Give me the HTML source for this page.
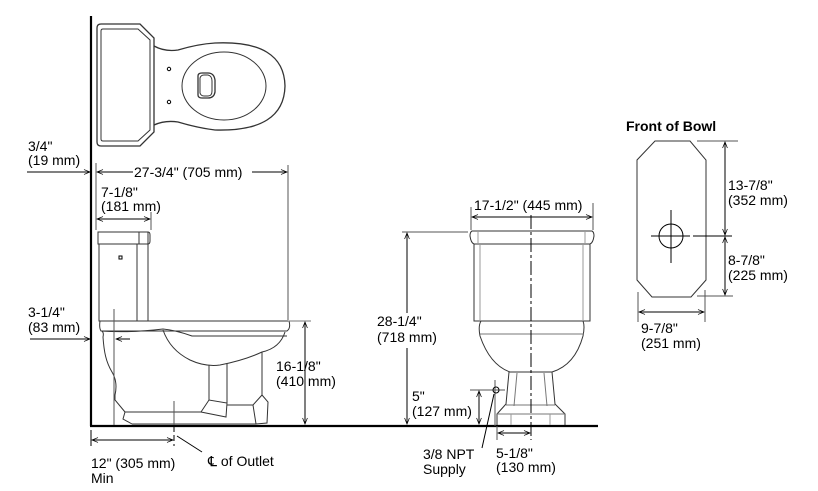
<!DOCTYPE html>
<html><head><meta charset="utf-8"><style>
html,body{margin:0;padding:0;background:#fff;}
svg{display:block;}
text{font-family:"Liberation Sans",sans-serif;font-size:14px;fill:#000;}
</style></head><body>
<svg width="818" height="491" viewBox="0 0 818 491" xmlns="http://www.w3.org/2000/svg">
<defs>
<marker id="a" viewBox="0 0 10 10" refX="10" refY="5" markerWidth="8" markerHeight="6" orient="auto-start-reverse" markerUnits="userSpaceOnUse"><path d="M0,1 L10,5 L0,9" fill="none" stroke="#000" stroke-width="1.2"/></marker>
</defs>
<g fill="none" stroke="#000" stroke-width="1">
<!-- wall & floor -->
<line x1="91" y1="16" x2="91" y2="426" stroke-width="2.2"/>
<line x1="90" y1="426" x2="598" y2="426" stroke-width="2.2"/>

<!-- top view -->
<path d="M101,24 H140 L154,38 V132 L140,146 H101 Q97,146 97,142 V28 Q97,24 101,24 Z" stroke="#333" stroke-width="1.3"/>
<path d="M103,29 H138 L150,40 V130 L138,141 H103 Q101,141 101,139 V31 Q101,29 103,29Z" stroke="#333"/>
<path d="M154,46 Q165,52 178,50 Q198,44 215,43 Q284,40 285,86 Q284,132 215,130 Q198,128 178,122 Q165,120 154,125" stroke="#333" stroke-width="1.3"/>
<ellipse cx="224" cy="86" rx="42" ry="34" stroke="#333"/>
<path d="M198,76 Q198,73 202,73 H208 Q214,73 215,80 V92 Q214,98 208,98 H202 Q198,98 198,95 Z" stroke="#333" stroke-width="1.3"/>
<path d="M200,78 Q201,75 204,75 H208 Q212,76 212,81 V91 Q212,96 208,96 H204 Q201,96 200,93Z" stroke="#333"/>
<circle cx="169" cy="69" r="1.7"/><circle cx="169" cy="102" r="1.7"/>

<!-- side view -->
<path d="M98,232 H148 V244 H98 Z" stroke="#333"/>
<line x1="139" y1="232" x2="139" y2="244" stroke="#333"/>
<path d="M148,232 Q150,232 150,235 V241 Q150,244 148,244" stroke="#333"/>
<rect x="99" y="244" width="49" height="77" stroke="#333"/>
<line x1="137" y1="244" x2="137" y2="321" stroke="#333"/>
<rect x="119" y="256" width="3" height="3"/>
<path d="M100,321 H289 Q291,328 287,331 H101 Q99,328 100,321Z" stroke="#333"/>
<path d="M102,331 Q104,333 103,337 C104,352 106,362 112,372 Q118,382 115,395 L115,400 L125,412" stroke="#333"/>
<path d="M101,331 Q130,333 163,329 Q175,330 192,336 H287" stroke="#333"/>
<path d="M163,330 Q170,350 190,360 Q205,367 220,365 Q245,360 262,352 Q280,348 285,332" stroke="#333"/>
<path d="M125,412 L123,419 L132,424 M125,412 H201" stroke="#333"/>
<line x1="132" y1="424" x2="256" y2="424" stroke="#333"/>
<path d="M209,365 V400 M227,363 V403" stroke="#333"/>
<path d="M201,412 L209,400 L227,403 L226,417 Z" stroke="#333"/>
<path d="M227,405 H253 L262,395 V352 M262,395 L268,402 L267,423 L256,424 L253,405" stroke="#333"/>
<line x1="114" y1="309" x2="114" y2="425" stroke="#555"/>
<line x1="174" y1="401" x2="174" y2="425" stroke="#555"/>

<!-- side dims -->
<line x1="96" y1="163" x2="96" y2="230" stroke="#555"/>
<line x1="288" y1="165" x2="288" y2="320" stroke="#555"/>
<line x1="97" y1="172" x2="133" y2="172" marker-start="url(#a)"/>
<line x1="252" y1="172" x2="287" y2="172" marker-end="url(#a)"/>
<line x1="151" y1="212" x2="151" y2="230" stroke="#555"/>
<line x1="97" y1="219" x2="150" y2="219" marker-start="url(#a)" marker-end="url(#a)"/>
<line x1="27" y1="172" x2="90" y2="172" marker-end="url(#a)"/>
<line x1="30" y1="339" x2="90" y2="339" marker-end="url(#a)"/>
<line x1="130" y1="339" x2="116" y2="339" marker-end="url(#a)"/>
<line x1="288" y1="321" x2="311" y2="321" stroke="#777"/>
<line x1="305" y1="322" x2="305" y2="424" marker-start="url(#a)" marker-end="url(#a)"/>
<line x1="91" y1="430" x2="91" y2="446"/>
<line x1="174" y1="426" x2="174" y2="446" stroke-dasharray="6,3"/>
<line x1="92" y1="440" x2="173" y2="440" marker-start="url(#a)" marker-end="url(#a)"/>
<line x1="177" y1="436" x2="202" y2="452"/>

<!-- front view -->
<path d="M472,231 H592 Q594,232 594,236 Q593,243 590,244 H474 Q471,243 470,236 Q470,232 472,231Z" stroke="#333"/>
<line x1="478" y1="231" x2="478" y2="244" stroke="#999"/><line x1="585" y1="231" x2="585" y2="244" stroke="#999"/>
<path d="M474,244 V321 H590 V244" stroke="#333"/>
<line x1="480" y1="244" x2="480" y2="321" stroke="#999"/><line x1="583" y1="244" x2="583" y2="321" stroke="#999"/>
<path d="M481,321 Q478,326 480,336 Q490,365 510,372 H552 Q575,365 583,336 Q585,326 583,321" stroke="#333"/>
<line x1="480" y1="334" x2="584" y2="334" stroke="#777"/>
<path d="M509,372 L506,404 L497,414 V425 M552,372 L555,404 L565,414 V425" stroke="#333"/>
<path d="M517,373 L514,406 M544,373 L547,406" stroke="#777"/>
<line x1="506" y1="405" x2="555" y2="405" stroke="#777"/>
<line x1="497" y1="414" x2="565" y2="414" stroke="#777"/>
<path d="M511,414 V425 M550,414 V425" stroke="#999"/>
<line x1="531" y1="215" x2="531" y2="440" stroke-dasharray="14,3,3,3"/>
<!-- front dims -->
<line x1="471" y1="207" x2="471" y2="230" stroke="#555"/>
<line x1="593" y1="203" x2="593" y2="230" stroke="#555"/>
<line x1="472" y1="217" x2="592" y2="217" marker-start="url(#a)" marker-end="url(#a)"/>
<line x1="402" y1="232" x2="468" y2="232" stroke="#555"/>
<line x1="407" y1="233" x2="407" y2="313" marker-start="url(#a)"/>
<line x1="407" y1="348" x2="407" y2="424" marker-end="url(#a)"/>
<line x1="470" y1="390" x2="505" y2="390" stroke="#555"/>
<line x1="495" y1="380" x2="495" y2="426" stroke="#555"/>
<line x1="479" y1="391" x2="479" y2="424" marker-start="url(#a)" marker-end="url(#a)"/>
<circle cx="496" cy="390" r="3"/>
<line x1="494" y1="394" x2="482" y2="448"/>
<line x1="497" y1="426" x2="497" y2="440" stroke="#555"/>
<line x1="498" y1="433" x2="530" y2="433" marker-start="url(#a)" marker-end="url(#a)"/>

<!-- front of bowl -->
<path d="M655,141 H690 L706,160 V280 L691,297 H652 L637,280 V160 Z" stroke="#333"/>
<circle cx="671" cy="236" r="12"/>
<line x1="651" y1="236" x2="690" y2="236"/><line x1="671" y1="210" x2="671" y2="263"/>
<line x1="693" y1="236" x2="732" y2="236"/>
<line x1="697" y1="141" x2="738" y2="141" stroke="#555"/>
<line x1="697" y1="296" x2="733" y2="296" stroke="#555"/>
<line x1="725" y1="142" x2="725" y2="235" marker-start="url(#a)" marker-end="url(#a)"/>
<line x1="725" y1="237" x2="725" y2="295" marker-start="url(#a)" marker-end="url(#a)"/>
<line x1="638" y1="292" x2="638" y2="322" stroke="#555"/>
<line x1="705" y1="290" x2="705" y2="322" stroke="#555"/>
<line x1="639" y1="312" x2="704" y2="312" marker-start="url(#a)" marker-end="url(#a)"/>
</g>
<g>
<text x="28" y="151">3/4"</text><text x="28" y="165">(19 mm)</text>
<text x="134" y="177">27-3/4" (705 mm)</text>
<text x="101" y="197">7-1/8"</text><text x="101" y="211">(181 mm)</text>
<text x="28" y="317">3-1/4"</text><text x="28" y="332">(83 mm)</text>
<text x="276" y="371">16-1/8"</text><text x="276" y="386">(410 mm)</text>
<text x="91" y="468">12" (305 mm)</text><text x="91" y="483">Min</text>
<text x="208" y="466">℄ of Outlet</text>
<text x="474" y="210">17-1/2" (445 mm)</text>
<text x="377" y="326">28-1/4"</text><text x="377" y="342">(718 mm)</text>
<text x="412" y="401">5"</text><text x="412" y="416">(127 mm)</text>
<text x="423" y="459">3/8 NPT</text><text x="423" y="474">Supply</text>
<text x="496" y="458">5-1/8"</text><text x="496" y="472">(130 mm)</text>
<text x="626" y="131" font-weight="bold">Front of Bowl</text>
<text x="728" y="190">13-7/8"</text><text x="728" y="205">(352 mm)</text>
<text x="728" y="265">8-7/8"</text><text x="728" y="280">(225 mm)</text>
<text x="641" y="333">9-7/8"</text><text x="641" y="348">(251 mm)</text>
</g>
</svg>
</body></html>
